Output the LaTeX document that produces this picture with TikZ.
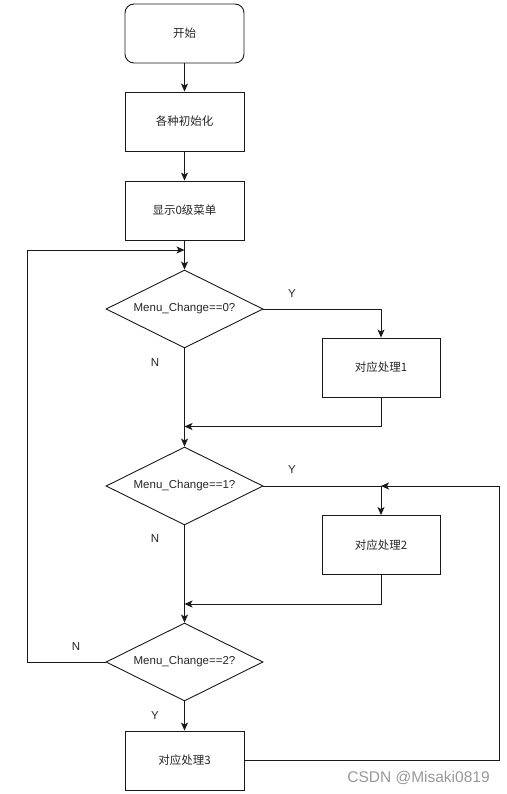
\documentclass[tikz,border=0pt]{standalone}
\usepackage{fontspec}
\setmainfont{Liberation Sans}
\newfontfamily\cjk{Noto Sans CJK SC}
\usetikzlibrary{shapes.geometric,arrows.meta}
\begin{document}
\begin{tikzpicture}[x=1pt,y=-1pt,
  every node/.style={font=\fontsize{11.5}{13}\selectfont, text=black!85},
  procbox/.style={draw=black!90, line width=0.9pt, minimum width=119pt, minimum height=59pt, inner sep=0pt, font=\cjk\fontsize{11.5}{13}\selectfont},
  startbox/.style={procbox, rounded corners=9pt},
  decision/.style={draw=black!90, line width=0.9pt, diamond, aspect=2, minimum width=157pt, minimum height=78pt, inner sep=0pt},
  flow/.style={draw=black!90, line width=0.9pt, -{Stealth[length=8pt,width=7pt,inset=2pt]}},
  lbl/.style={inner sep=0pt}
]
\useasboundingbox (0,0) rectangle (506,794);
% nodes
\node[startbox] (start) at (184.5,33.5) {开始};
\node[procbox] (init) at (184.5,121.5) {各种初始化};
\node[procbox] (menu0) at (184.5,210.5) {显示0级菜单};
\node[decision] (d1) at (184.5,309) {Menu\_Change==0?};
\node[procbox, minimum width=118pt] (p1) at (381,367.5) {对应处理1};
\node[decision] (d2) at (184.5,486) {Menu\_Change==1?};
\node[procbox, minimum width=118pt] (p2) at (381,545) {对应处理2};
\node[decision] (d3) at (184.5,662) {Menu\_Change==2?};
\node[procbox] (p3) at (184.5,760.5) {对应处理3};
% coordinates
\coordinate (j0) at (184.5,250);
\coordinate (j1) at (184.5,426.5);
\coordinate (j2) at (184.5,604);
\coordinate (j3) at (381,486);
\coordinate (lb) at (27,662);
\coordinate (lt) at (27,250);
\coordinate (rb) at (499,760.5);
\coordinate (rt) at (499,486);
% connectors
\draw[flow] (start) -- (init);
\draw[flow] (init) -- (menu0);
\draw[flow] (menu0) -- (d1);
\draw[flow] (d1.east) -| (p1.north);
\draw[flow] (p1.south) |- (j1);
\draw[flow] (d1.south) -- (d2.north);
\draw[flow] (d2.east) -| (p2.north);
\draw[flow] (p2.south) |- (j2);
\draw[flow] (d2.south) -- (d3.north);
\draw[flow] (d3.west) -- (lb) -- (lt) -- (j0);
\draw[flow] (d3.south) -- (p3.north);
\draw[flow] (p3.east) -- (rb) -- (rt) -- (j3);
% labels
\node[lbl] (y1) at (292,294) {Y};
\node[lbl] (n1) at (155,363) {N};
\node[lbl] (y2) at (292,470) {Y};
\node[lbl] (n2) at (155,539) {N};
\node[lbl] (n3) at (76,647) {N};
\node[lbl] (y3) at (155,716) {Y};
\node[lbl, text=black!40, font=\fontsize{15.5}{17}\selectfont] (wm) at (418.5,778) {CSDN @Misaki0819};
\end{tikzpicture}
\end{document}
